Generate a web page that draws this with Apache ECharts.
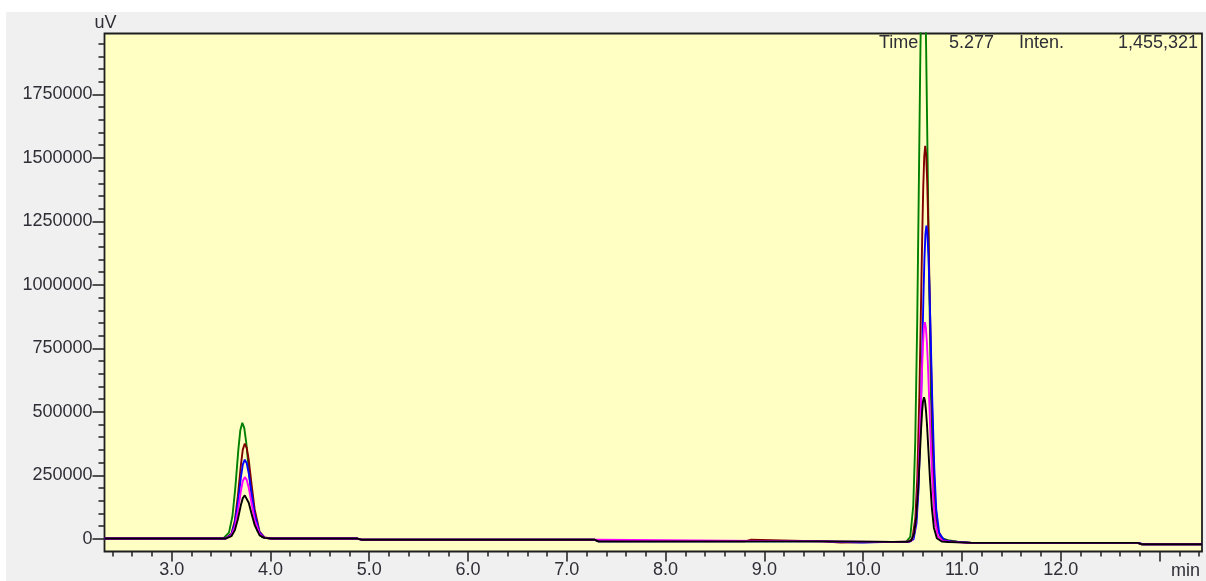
<!DOCTYPE html>
<html><head><meta charset="utf-8">
<script src="https://cdn.jsdelivr.net/npm/echarts@6/dist/echarts.min.js"></script>
<style>html,body{margin:0;padding:0;background:#fff;width:1206px;height:581px;overflow:hidden}
#chart{position:absolute;left:6px;top:12px;width:1200px;height:569px}</style></head>
<body><div id="chart"></div>
<script>
// ---- axis tick labels ----
const xTickLabels = [3, 4, 5, 6, 7, 8, 9, 10, 11, 12];
const xMajorTicks = [3, 4, 5, 6, 7, 8, 9, 10, 11, 12, 13];
const yTickLabels = [0, 250000, 500000, 750000, 1000000, 1250000, 1500000, 1750000];
const xUnit = 'min';
const yUnit = 'uV';
const cursorTime = '5.277';
const cursorInten = '1,455,321';

// ---- traces: [time (min), intensity (uV)] ----
const traceGreen = [
[2.32,1000],[3.52,1000],[3.58,24300],[3.615,88900],[3.645,204500],[3.675,351400],[3.695,427900],[3.715,457000],[3.735,436100],[3.755,378300],[3.785,256800],[3.815,141700],[3.865,33900],[3.915,6000],[3.99,1000],
[4.88,1000],[4.92,-3500],[7.28,-3500],[7.32,-10000],[9.6,-10000],[9.62,-12000],[10.3,-12000],
[10.437,-11000],[10.477,8000],[10.507,130000],[10.527,379000],[10.547,852000],[10.562,1339000],[10.577,1848000],[10.587,2131000],[10.597,2321000],[10.607,2388000],[10.617,2332000],[10.627,2176000],[10.637,1943000],[10.652,1502000],[10.667,1048000],[10.687,549000],[10.707,235000],[10.737,57000],[10.787,4000],[10.857,-5000],[10.957,-11000],
[11.1,-16000],[12.78,-16000],[12.82,-21500],[13.43,-21500]
];
const traceBrown = [
[2.32,1000],[3.545,1000],[3.605,20300],[3.64,73200],[3.67,168000],[3.70,288500],[3.72,351100],[3.74,375000],[3.76,357800],[3.78,310500],[3.81,210900],[3.84,116500],[3.89,28100],[3.94,5300],[4.015,1000],
[4.88,1000],[4.92,-3500],[7.28,-3500],[7.32,-10000],[8.80,-10000],[8.81,-4000],[8.86,-4000],[8.87,-10000],[9.6,-10000],[9.62,-12000],[9.66,-12000],[9.67,-15000],[9.77,-15000],[9.78,-12000],[10.3,-12000],
[10.458,-11500],[10.498,1000],[10.528,80000],[10.548,242000],[10.568,550000],[10.583,866000],[10.598,1197000],[10.608,1381000],[10.618,1504000],[10.628,1548000],[10.638,1511000],[10.648,1409000],[10.658,1258000],[10.673,971000],[10.688,676000],[10.708,352000],[10.728,147000],[10.758,32000],[10.808,-2500],[10.878,-9000],[10.978,-13000],
[11.1,-16000],[12.78,-16000],[12.82,-21500],[13.43,-21500]
];
const traceBlue = [
[2.32,1000],[3.545,1000],[3.605,17200],[3.64,61200],[3.67,140000],[3.70,240100],[3.72,292200],[3.74,312000],[3.76,297700],[3.78,258400],[3.81,175600],[3.84,97200],[3.89,23700],[3.94,4700],[4.015,1000],
[4.88,1000],[4.92,-3500],[7.28,-3500],[7.32,-10000],[9.6,-10000],[9.62,-12000],[9.76,-12000],[9.77,-15000],[9.99,-15000],[10.0,-12000],[10.3,-12000],
[10.47,-11500],[10.51,-1500],[10.54,61000],[10.56,191000],[10.58,436000],[10.595,689000],[10.61,953000],[10.62,1100000],[10.63,1198000],[10.64,1233000],[10.65,1203000],[10.66,1122000],[10.67,1001000],[10.685,772000],[10.70,537000],[10.72,278000],[10.74,115000],[10.77,22000],[10.82,-5000],[10.89,-10000],[10.99,-13000],
[11.1,-16000],[12.78,-16000],[12.8,-19000],[12.84,-21500],[13.43,-21500]
];
const traceMagenta = [
[2.32,1000],[3.545,1000],[3.605,13800],[3.64,48000],[3.67,109200],[3.70,187100],[3.72,227600],[3.74,243000],[3.76,231900],[3.78,201300],[3.81,137000],[3.84,76000],[3.89,18900],[3.94,4100],[4.015,1000],
[4.88,1000],[4.92,-3500],[7.33,-3500],[7.34,-10000],[9.6,-10000],[9.62,-12000],[10.3,-12000],
[10.455,-11700],[10.495,-5000],[10.525,39000],[10.545,129000],[10.565,299000],[10.58,475000],[10.595,658000],[10.605,760000],[10.615,829000],[10.625,853000],[10.635,831000],[10.645,775000],[10.655,691000],[10.67,532000],[10.685,368000],[10.705,188000],[10.725,75000],[10.755,11000],[10.805,-8000],[10.875,-11500],[10.975,-14000],
[11.1,-16000],[12.78,-16000],[12.82,-21500],[13.43,-21500]
];
const traceBlack = [
[2.32,1000],[3.545,1000],[3.605,10300],[3.64,34300],[3.67,77200],[3.70,131800],[3.72,160200],[3.74,171000],[3.76,163200],[3.78,141800],[3.81,96600],[3.84,53900],[3.89,13800],[3.94,3500],[4.015,1000],
[4.88,1000],[4.92,-3500],[7.28,-3500],[7.32,-10000],[9.6,-10000],[9.62,-12000],[10.3,-12000],
[10.446,-11800],[10.486,-7300],[10.516,21600],[10.536,81000],[10.556,193000],[10.571,309000],[10.586,430000],[10.596,497000],[10.606,542000],[10.616,558000],[10.626,543000],[10.636,505000],[10.646,450000],[10.661,345000],[10.676,238000],[10.696,119000],[10.716,44000],[10.746,2000],[10.796,-10500],[10.866,-12700],[10.966,-14100],
[11.1,-16000],[12.78,-16000],[12.82,-21500],[13.43,-21500]
];

// ---- minor tick positions (axis config) ----
const xMinorTicks = [];
for (let i = 12; i <= 67; i++) { if (i % 5 !== 0) xMinorTicks.push(i / 5); }
const yMinorTicks = [];
for (let i = 1; i <= 39; i++) { if (i % 5 !== 0) yMinorTicks.push(i * 50000); }

const X_MIN = 2.32, X_MAX = 13.43, Y_MIN = -50000, Y_MAX = 1990000;
const FONT = '"Liberation Sans", Arial, sans-serif';
const TXT = '#2e2e36';
const tickStyle = {color: '#2a2a2a', width: 1.6};

const chart = echarts.init(document.getElementById('chart'));
const mk = (name, data, color) => ({
  name, type: 'line', data, showSymbol: false, symbol: 'none', clip: true,
  lineStyle: {color, width: 1.9}, itemStyle: {color}, animation: false
});
chart.setOption({
  animation: false,
  backgroundColor: '#f0f0f0',
  grid: {left: 98.5, top: 21.5, right: 4, bottom: 29.5, show: true, backgroundColor: '#ffffc4',
         borderColor: '#1e1e1e', borderWidth: 1.8, containLabel: false, outerBoundsMode: 'none'},
  xAxis: [
    {type: 'value', min: X_MIN, max: X_MAX, position: 'bottom', axisLine: {show: false, onZero: false}, splitLine: {show: false},
     axisTick: {show: true, customValues: xMajorTicks, length: 10, lineStyle: tickStyle},
     axisLabel: {customValues: xTickLabels, formatter: v => v.toFixed(1), margin: 10, color: TXT, fontSize: 18, fontFamily: FONT}},
    {type: 'value', min: X_MIN, max: X_MAX, position: 'bottom', axisLine: {show: false, onZero: false}, splitLine: {show: false},
     axisLabel: {show: false}, axisTick: {show: true, customValues: xMinorTicks, length: 5, lineStyle: tickStyle}}
  ],
  yAxis: [
    {type: 'value', min: Y_MIN, max: Y_MAX, position: 'left', axisLine: {show: false, onZero: false}, splitLine: {show: false},
     axisTick: {show: true, customValues: yTickLabels, length: 12, lineStyle: tickStyle},
     axisLabel: {customValues: yTickLabels, formatter: v => String(v), margin: 12, color: TXT, fontSize: 18, fontFamily: FONT}},
    {type: 'value', min: Y_MIN, max: Y_MAX, position: 'left', axisLine: {show: false, onZero: false}, splitLine: {show: false},
     axisLabel: {show: false}, axisTick: {show: true, customValues: yMinorTicks, length: 6, lineStyle: tickStyle}}
  ],
  graphic: [
    {type: 'text', x: 99.5, y: 11.1, style: {text: yUnit, align: 'center', verticalAlign: 'middle', font: '18px ' + FONT, fill: TXT}},
    {type: 'text', x: 1194, y: 558.8, style: {text: xUnit, align: 'right', verticalAlign: 'middle', font: '18px ' + FONT, fill: TXT}},
    {type: 'text', x: 912.3, y: 31.1, z: 100, style: {text: 'Time', align: 'right', verticalAlign: 'middle', font: '18px ' + FONT, fill: TXT}},
    {type: 'text', x: 943, y: 31.1, z: 100, style: {text: cursorTime, align: 'left', verticalAlign: 'middle', font: '18px ' + FONT, fill: TXT}},
    {type: 'text', x: 1013, y: 31.1, z: 100, style: {text: 'Inten.', align: 'left', verticalAlign: 'middle', font: '18px ' + FONT, fill: TXT}},
    {type: 'text', x: 1192, y: 31.1, z: 100, style: {text: cursorInten, align: 'right', verticalAlign: 'middle', font: '18px ' + FONT, fill: TXT}}
  ],
  series: [
    mk('Ch1', traceGreen, '#008000'),
    mk('Ch2', traceBrown, '#800000'),
    mk('Ch3', traceBlue, '#0000ff'),
    mk('Ch4', traceMagenta, '#ff00ff'),
    mk('Ch5', traceBlack, '#000000')
  ]
});
</script></body></html>
